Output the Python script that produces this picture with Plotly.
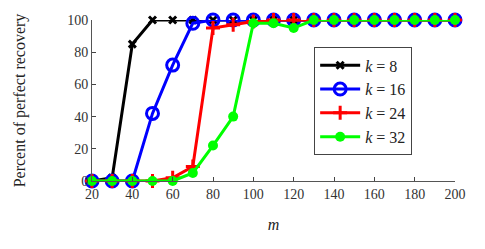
import plotly.graph_objects as go

m = [20, 30, 40, 50, 60, 70, 80, 90, 100, 110, 120, 130, 140, 150, 160, 170, 180, 190, 200]
k8 = [0, 2, 85, 100, 100, 100, 100, 100, 100, 100, 100, 100, 100, 100, 100, 100, 100, 100, 100]
k16 = [0, 0, 0, 42, 72, 98, 100, 100, 100, 100, 100, 100, 100, 100, 100, 100, 100, 100, 100]
k24 = [0, 0, 0, 0, 2, 9, 95, 97, 99, 100, 100, 100, 100, 100, 100, 100, 100, 100, 100]
k32 = [0, 0, 0, 0, 0, 5, 22, 40, 98, 98, 95, 100, 100, 100, 100, 100, 100, 100, 100]
xticks = [20, 40, 60, 80, 100, 120, 140, 160, 180, 200]
yticks = [0, 20, 40, 60, 80, 100]

serif = "Liberation Serif, DejaVu Serif, serif"

fig = go.Figure()
fig.add_trace(go.Scatter(x=m, y=k8, mode="lines+markers", name="<i>k</i> = 8",
                         line=dict(color="black", width=3),
                         marker=dict(symbol="x-thin", size=7, line=dict(color="black", width=3)),
                         cliponaxis=False))
fig.add_trace(go.Scatter(x=m, y=k16, mode="lines+markers", name="<i>k</i> = 16",
                         line=dict(color="blue", width=3),
                         marker=dict(symbol="circle-open", size=12, color="blue", line=dict(width=3)),
                         cliponaxis=False))
fig.add_trace(go.Scatter(x=m, y=k24, mode="lines+markers", name="<i>k</i> = 24",
                         line=dict(color="red", width=3),
                         marker=dict(symbol="cross-thin", size=10, line=dict(color="red", width=3)),
                         cliponaxis=False))
fig.add_trace(go.Scatter(x=m, y=k32, mode="lines+markers", name="<i>k</i> = 32",
                         line=dict(color="#00ff00", width=3),
                         marker=dict(symbol="circle", size=10, color="#00ff00"),
                         cliponaxis=False))

fig.update_layout(
    width=477, height=241,
    margin=dict(l=84, r=30, t=12, b=68),
    paper_bgcolor="white", plot_bgcolor="white",
    font=dict(family=serif, size=14, color="#333"),
    showlegend=True,
    legend=dict(x=0.612, y=0.83, xanchor="left", yanchor="top",
                bordercolor="#444", borderwidth=1, bgcolor="white",
                font=dict(family=serif, size=16, color="#222"),
                tracegroupgap=0, itemwidth=40, entrywidth=70),
    xaxis=dict(range=[20, 200], tickvals=xticks, ticks="inside", ticklen=4,
               showline=True, linecolor="#555", linewidth=1, showgrid=False, zeroline=False,
               title=dict(text="<i>m</i>", font=dict(size=16, color="#222"), standoff=18),
               tickfont=dict(size=14, color="#333"), automargin=False),
    yaxis=dict(range=[0, 100], tickvals=yticks, ticks="inside", ticklen=4,
               showline=True, linecolor="#555", linewidth=1, showgrid=False, zeroline=False,
               title=dict(text="Percent of perfect recovery", font=dict(size=16, color="#222"), standoff=37),
               tickfont=dict(size=14, color="#333"), automargin=False),
)

fig.write_html("out.html")
